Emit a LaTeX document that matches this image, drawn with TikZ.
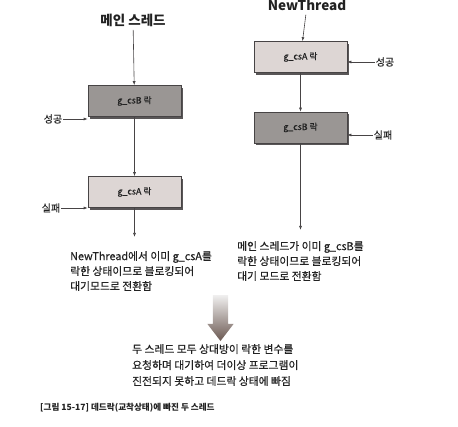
\documentclass[tikz,border=0pt]{standalone}
\usepackage{fontspec}
\setmainfont{Noto Sans CJK KR}
\newfontfamily\kmed{Noto Sans CJK KR}[FakeBold=0.4]
\usepackage{tikz}
\usetikzlibrary{arrows.meta, positioning, shadows, shapes.arrows}
\definecolor{lkdark}{HTML}{9A9694}
\definecolor{lklight}{HTML}{DDD6D4}
\definecolor{lkline}{HTML}{474445}
\definecolor{lkarrow}{HTML}{6B5851}
\definecolor{lktext}{HTML}{222222}

\begin{document}
\begin{tikzpicture}[
  x=1pt, y=-1pt,
  lockbox/.style={rectangle, draw=lkline, line width=0.6pt,
    minimum width=93pt, minimum height=31pt,
    font=\kmed\fontsize{8.8}{10}\selectfont, text=lktext,
    drop shadow={shadow xshift=2.2pt, shadow yshift=-2.2pt,
      fill=lkline, opacity=0.9}},
  held/.style={lockbox, fill=lkdark},
  free/.style={lockbox, fill=lklight},
  title/.style={font=\fontsize{13.5}{15}\selectfont\bfseries, text=lktext},
  side/.style={font=\kmed\fontsize{10}{11}\selectfont, text=lktext, inner sep=1pt},
  note/.style={anchor=north west, align=left, inner sep=0pt,
    text=lktext, font=\kmed\fontsize{10.8}{15}\selectfont},
  arr/.style={-{Latex[length=4pt, width=3pt]}, line width=0.6pt, color=lkline}
]
  \useasboundingbox (0,0) rectangle (458,427);

  % main thread
  \node[title] (main) at (133,20) {메인 스레드};
  \node[held] (mB) at (134.5,101) {g\_csB 락};
  \node[free] (mA) at (134.5,192) {g\_csA 락};
  \node[side] (mok) at (53,119) {성공};
  \node[side] (mfail) at (51,208) {실패};
  \coordinate (mend) at (134.5,237);

  % new thread
  \node[title, anchor=base] (newt) at (307,11) {NewThread};
  \node[free] (nA) at (300.5,57) {g\_csA 락};
  \node[held] (nB) at (300.5,127.5) {g\_csB 락};
  \node[side] (nok) at (385,62) {성공};
  \node[side] (nfail) at (383,135) {실패};
  \coordinate (nend) at (300.5,230);

  \draw[arr] (main) -- (mB);
  \draw[arr] (mB) -- (mA);
  \draw[arr] (mA) -- (mend);
  \draw[arr] (mok.east) -- (mok -| mB.west);
  \draw[arr] (mfail.east) -- (mfail -| mA.west);

  \draw[arr] (newt) -- (nA);
  \draw[arr] (nA) -- (nB);
  \draw[arr] (nB) -- (nend);
  \draw[arr] (nok.west) -- (nok -| nA.east);
  \draw[arr] (nfail.west) -- (nfail -| nB.east);

  % notes
  \node[note] (mnote) at (70,251)
    {NewThread에서 이미 g\_csA를\\락한 상태이므로 블로킹되어\\대기모드로 전환함};
  \node[note] (nnote) at (237,241)
    {메인 스레드가 이미 g\_csB를\\락한 상태이므로 블로킹되어\\대기 모드로 전환함};

  \node[single arrow, shape border rotate=270, draw=none,
    minimum width=26pt, minimum height=46pt, inner sep=7.5pt,
    single arrow head extend=5.5pt, single arrow tip angle=75,
    top color=lkdark!15, bottom color=lkarrow] (down) at (220.5,313) {};

  \node[note, font=\kmed\fontsize{10.8}{16}\selectfont] (dead) at (132,344)
    {두 스레드 모두 상대방이 락한 변수를\\요청하며 대기하여 더이상 프로그램이\\진전되지 못하고 데드락 상태에 빠짐};

  \node[anchor=west, inner sep=0pt, text=lktext,
    font=\fontsize{8.6}{10}\selectfont\bfseries] (cap) at (40,408)
    {[그림 15-17] 데드락(교착상태)에 빠진 두 스레드};
\end{tikzpicture}
\end{document}
